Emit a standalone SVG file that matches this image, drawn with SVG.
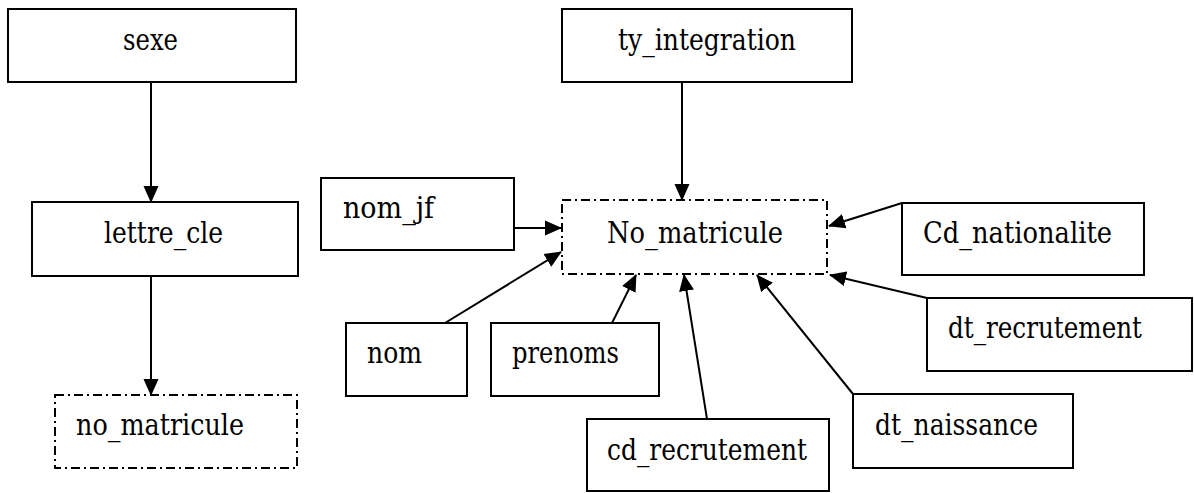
<svg xmlns="http://www.w3.org/2000/svg" width="1194" height="493" viewBox="0 0 1194 493">
  <style>
    .box { fill: #ffffff; stroke: #000000; stroke-width: 2; }
    .key { fill: #ffffff; stroke: #000000; stroke-width: 2; stroke-dasharray: 9 4 2 4; }
    .lbl { font-family: "DejaVu Serif", "Liberation Serif", serif; font-size: 29px; fill: #000000; }
    .link { fill: none; stroke: #000000; stroke-width: 2; marker-end: url(#head); }
  </style>
  <defs>
    <marker id="head" markerUnits="userSpaceOnUse" markerWidth="17" markerHeight="17" viewBox="0 0 17 17" refX="16" refY="8.5" orient="auto">
      <path d="M0,1 L17,8.5 L0,16 Z" fill="#000000"/>
    </marker>
  </defs>

  <rect width="1194" height="493" fill="#ffffff"/>

  <g id="connectors">
    <line class="link" x1="151" y1="82" x2="151" y2="202"/>
    <line class="link" x1="151" y1="276" x2="151" y2="395"/>
    <line class="link" x1="682" y1="82" x2="682" y2="200"/>
    <line class="link" x1="514" y1="228" x2="561" y2="228"/>
    <line class="link" x1="445" y1="323" x2="561" y2="252"/>
    <line class="link" x1="612" y1="323" x2="636" y2="275"/>
    <line class="link" x1="707" y1="419" x2="684" y2="275"/>
    <line class="link" x1="853" y1="394" x2="757" y2="275"/>
    <line class="link" x1="902" y1="203" x2="829" y2="226"/>
    <line class="link" x1="927" y1="298" x2="830" y2="275"/>
  </g>

  <g id="sexe">
    <rect class="box" x="8" y="9" width="288" height="73"/>
    <text class="lbl" x="123" y="50" textLength="55" lengthAdjust="spacingAndGlyphs">sexe</text>
  </g>
  <g id="lettre_cle">
    <rect class="box" x="32" y="202" width="266" height="74"/>
    <text class="lbl" x="104" y="243" textLength="119" lengthAdjust="spacingAndGlyphs">lettre_cle</text>
  </g>
  <g id="no_matricule">
    <rect class="key" x="55" y="395" width="242" height="73"/>
    <text class="lbl" x="76" y="435" textLength="168" lengthAdjust="spacingAndGlyphs">no_matricule</text>
  </g>

  <g id="ty_integration">
    <rect class="box" x="562" y="9" width="290" height="73"/>
    <text class="lbl" x="618" y="50" textLength="178" lengthAdjust="spacingAndGlyphs">ty_integration</text>
  </g>
  <g id="No_matricule">
    <rect class="key" x="562" y="200" width="265" height="74"/>
    <text class="lbl" x="607" y="243" textLength="176" lengthAdjust="spacingAndGlyphs">No_matricule</text>
  </g>
  <g id="nom_jf">
    <rect class="box" x="321" y="178" width="193" height="72"/>
    <text class="lbl" x="343" y="218" textLength="91" lengthAdjust="spacingAndGlyphs">nom_jf</text>
  </g>
  <g id="nom">
    <rect class="box" x="346" y="323" width="121" height="73"/>
    <text class="lbl" x="367" y="363" textLength="55" lengthAdjust="spacingAndGlyphs">nom</text>
  </g>
  <g id="prenoms">
    <rect class="box" x="491" y="323" width="168" height="73"/>
    <text class="lbl" x="512" y="363" textLength="107" lengthAdjust="spacingAndGlyphs">prenoms</text>
  </g>
  <g id="cd_recrutement">
    <rect class="box" x="587" y="419" width="242" height="72"/>
    <text class="lbl" x="607" y="460" textLength="200" lengthAdjust="spacingAndGlyphs">cd_recrutement</text>
  </g>
  <g id="dt_naissance">
    <rect class="box" x="853" y="394" width="220" height="74"/>
    <text class="lbl" x="875" y="435" textLength="163" lengthAdjust="spacingAndGlyphs">dt_naissance</text>
  </g>
  <g id="Cd_nationalite">
    <rect class="box" x="902" y="203" width="242" height="72"/>
    <text class="lbl" x="923" y="243" textLength="189" lengthAdjust="spacingAndGlyphs">Cd_nationalite</text>
  </g>
  <g id="dt_recrutement">
    <rect class="box" x="927" y="298" width="265" height="73"/>
    <text class="lbl" x="948" y="338" textLength="194" lengthAdjust="spacingAndGlyphs">dt_recrutement</text>
  </g>
</svg>
